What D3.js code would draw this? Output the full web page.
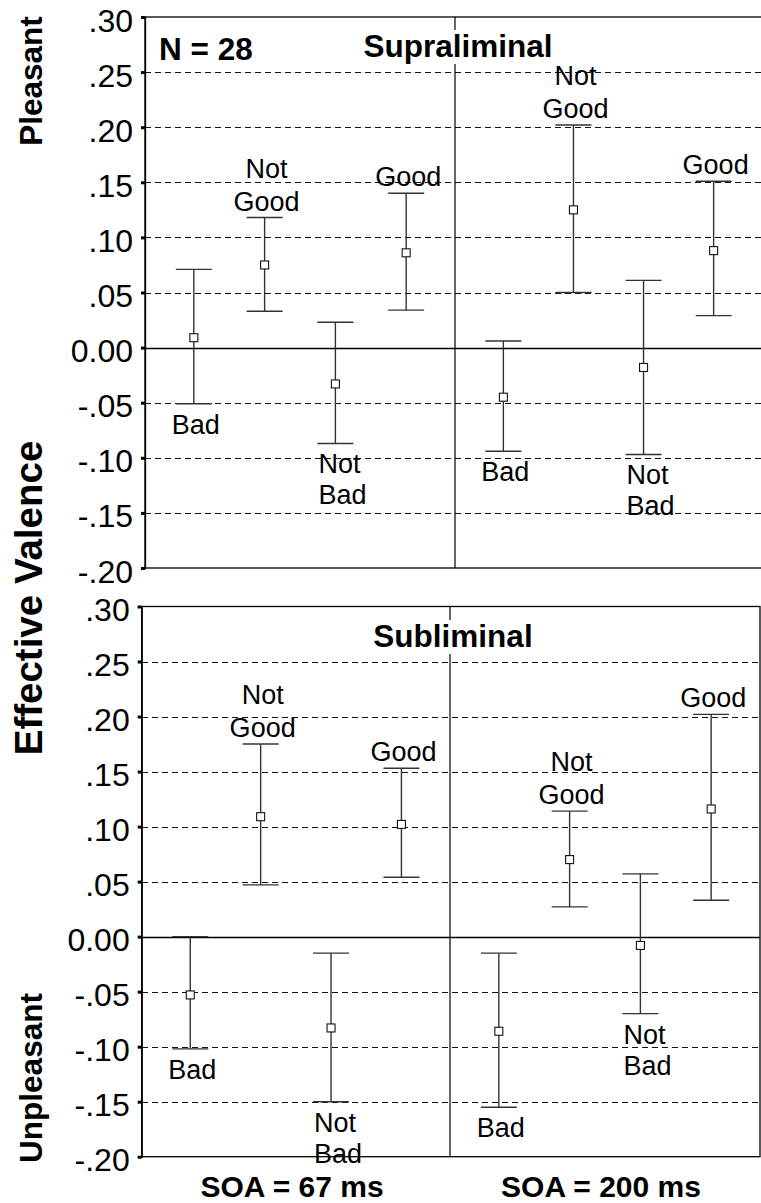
<!DOCTYPE html>
<html>
<head>
<meta charset="utf-8">
<script src="https://cdn.jsdelivr.net/npm/d3@7.9.0/dist/d3.min.js"></script>
<style>
  html, body { margin: 0; padding: 0; background: #fff; }
  svg { display: block; font-family: "Liberation Sans", Arial, Helvetica, sans-serif; }
</style>
</head>
<body>
<svg id="chart" width="761" height="1203"></svg>
<script>
// --- data ---
const categories = ["Bad", "Not Good", "Not Bad", "Good"];
const soaLabels = ["SOA = 67 ms", "SOA = 200 ms"];
const tickValues = [0.30, 0.25, 0.20, 0.15, 0.10, 0.05, 0.00, -0.05, -0.10, -0.15, -0.20];
const tickLabels = [".30", ".25", ".20", ".15", ".10", ".05", "0.00", "-.05", "-.10", "-.15", "-.20"];

// Supraliminal
const supra67Mean = [0.009, 0.075, -0.033, 0.086];
const supra67Lo   = [-0.051, 0.033, -0.087, 0.034];
const supra67Hi   = [0.071, 0.118, 0.023, 0.140];
const supra200Mean = [-0.045, 0.125, -0.018, 0.088];
const supra200Lo   = [-0.094, 0.050, -0.097, 0.029];
const supra200Hi   = [0.006, 0.202, 0.061, 0.151];

// Subliminal
const sub67Mean = [-0.053, 0.109, -0.083, 0.102];
const sub67Lo   = [-0.102, 0.047, -0.150, 0.054];
const sub67Hi   = [0.000, 0.175, -0.015, 0.153];
const sub200Mean = [-0.086, 0.070, -0.008, 0.116];
const sub200Lo   = [-0.155, 0.027, -0.070, 0.033];
const sub200Hi   = [-0.015, 0.114, 0.057, 0.202];

const FONT_LABEL = 27, FONT_TICK = 32, FONT_BOLD = 31.5;
const crisp = v => Math.round(v) + 0.5;

const svg = d3.select("#chart");

const panels = [
  { title: "Supraliminal", note: "N = 28", top: 17, bottom: 568, left: 145, mid: 455, right: 762, titleY: 57,
    halves: [[supra67Mean, supra67Lo, supra67Hi], [supra200Mean, supra200Lo, supra200Hi]] },
  { title: "Subliminal", note: null, top: 606.5, bottom: 1156.7, left: 141.7, mid: 450, right: 760, titleY: 647,
    halves: [[sub67Mean, sub67Lo, sub67Hi], [sub200Mean, sub200Lo, sub200Hi]] }
];

panels.forEach(drawPanel);

function drawPanel(p) {
  const g = svg.append("g");
  const y = d3.scaleLinear().domain([-0.2, 0.3]).range([p.bottom, p.top]);

  // dashed grid lines
  g.selectAll("line.grid")
    .data(tickValues.filter(v => Math.abs(v) > 1e-9 && v < 0.29 && v > -0.19))
    .join("line")
    .attr("x1", p.left).attr("x2", p.right)
    .attr("y1", d => crisp(y(d))).attr("y2", d => crisp(y(d)))
    .attr("stroke", "#111").attr("stroke-width", 1)
    .attr("shape-rendering", "crispEdges")
    .attr("stroke-dasharray", "6,4");

  // zero line
  g.append("line")
    .attr("x1", p.left).attr("x2", p.right)
    .attr("y1", crisp(y(0))).attr("y2", crisp(y(0)))
    .attr("stroke", "#000").attr("stroke-width", 1.3);

  // frame
  g.append("rect")
    .attr("x", p.left).attr("y", y(0.3))
    .attr("width", p.right - p.left).attr("height", y(-0.2) - y(0.3))
    .attr("fill", "none").attr("stroke", "#000").attr("stroke-width", 1.3);

  // divider between SOA halves
  g.append("line")
    .attr("x1", p.mid).attr("x2", p.mid)
    .attr("y1", y(0.3)).attr("y2", y(-0.2))
    .attr("stroke", "#000").attr("stroke-width", 1.2);

  // panel title with white box behind
  const title = g.append("text")
    .attr("x", p.mid + 3).attr("y", p.titleY)
    .attr("text-anchor", "middle")
    .attr("font-size", FONT_BOLD).attr("font-weight", "bold")
    .text(p.title);
  const bb = title.node().getBBox();
  g.insert("rect", () => title.node())
    .attr("x", bb.x - 2).attr("y", bb.y + 2)
    .attr("width", bb.width + 4).attr("height", bb.height - 2)
    .attr("fill", "#fff");

  if (p.note) {
    g.append("text")
      .attr("x", 159).attr("y", 60)
      .attr("font-size", FONT_BOLD).attr("font-weight", "bold")
      .text(p.note);
  }

  // y axis
  const axis = g.append("g").attr("transform", `translate(${p.left},0)`)
    .call(d3.axisLeft(y).tickValues(tickValues).tickSize(4).tickPadding(8)
      .tickFormat((d, i) => tickLabels[i]));
  axis.select(".domain").attr("stroke", "#000").attr("stroke-width", 1.3);
  axis.selectAll(".tick line").attr("stroke", "#000").attr("stroke-width", 3);
  axis.selectAll(".tick text")
    .attr("font-size", FONT_TICK)
    .attr("font-family", "'Liberation Sans', Arial, sans-serif")
    .attr("fill", "#000")
    .attr("dy", null)
    .attr("y", 14);

  // two SOA halves
  p.halves.forEach((series, h) => {
    const [mean, lo, hi] = series;
    const x = d3.scalePoint().domain(categories)
      .range(h === 0 ? [p.left, p.mid] : [p.mid, p.right]).padding(0.69);
    const rows = categories.map((c, i) => ({ cat: c, mean: mean[i], lo: lo[i], hi: hi[i] }));

    const bars = g.append("g").selectAll("g").data(rows).join("g")
      .attr("transform", d => `translate(${x(d.cat)},0)`);

    bars.append("line")
      .attr("y1", d => y(d.lo)).attr("y2", d => y(d.hi))
      .attr("stroke", "#333").attr("stroke-width", 1.4);
    bars.append("line")
      .attr("x1", -18).attr("x2", 18)
      .attr("y1", d => y(d.hi)).attr("y2", d => y(d.hi))
      .attr("stroke", "#333").attr("stroke-width", 1.4);
    bars.append("line")
      .attr("x1", -18).attr("x2", 18)
      .attr("y1", d => y(d.lo)).attr("y2", d => y(d.lo))
      .attr("stroke", "#333").attr("stroke-width", 1.4);
    bars.append("rect")
      .attr("x", -4).attr("y", d => y(d.mean) - 4)
      .attr("width", 8).attr("height", 8)
      .attr("fill", "#fff").attr("stroke", "#111").attr("stroke-width", 1.1);

    // category labels: "Bad" types under the lower cap, "Good" types over the upper cap
    bars.each(function (d) {
      const sel = d3.select(this);
      const words = d.cat.startsWith("Not") ? ["Not", d.cat.slice(4)] : [d.cat];
      const below = d.cat.endsWith("Bad");
      const leftAligned = d.cat === "Not Bad";
      words.forEach((w, k) => {
        const baseY = below
          ? y(d.lo) + 30 + k * 31
          : y(d.hi) - 7 - (words.length - 1 - k) * 33;
        sel.append("text")
          .attr("x", leftAligned ? -17 : 2)
          .attr("y", baseY)
          .attr("text-anchor", leftAligned ? "start" : "middle")
          .attr("font-size", FONT_LABEL)
          .attr("fill", "#000")
          .text(w);
      });
    });
  });
}

// axis titles
const yTitles = [
  { text: "Pleasant", cy: 81, size: 31.5 },
  { text: "Effective Valence", cy: 598, size: 38.5 },
  { text: "Unpleasant", cy: 1078, size: 31.5 }
];
svg.selectAll("text.ytitle").data(yTitles).join("text")
  .attr("class", "ytitle")
  .attr("transform", d => `translate(42,${d.cy}) rotate(-90)`)
  .attr("text-anchor", "middle")
  .attr("font-size", d => d.size).attr("font-weight", "bold")
  .text(d => d.text);

const xTitle = d3.scaleOrdinal().domain(soaLabels).range([292, 601]);
svg.selectAll("text.xtitle").data(soaLabels).join("text")
  .attr("class", "xtitle")
  .attr("x", d => xTitle(d)).attr("y", 1196.5)
  .attr("text-anchor", "middle")
  .attr("font-size", 30).attr("font-weight", "bold")
  .text(d => d);
</script>
</body>
</html>
